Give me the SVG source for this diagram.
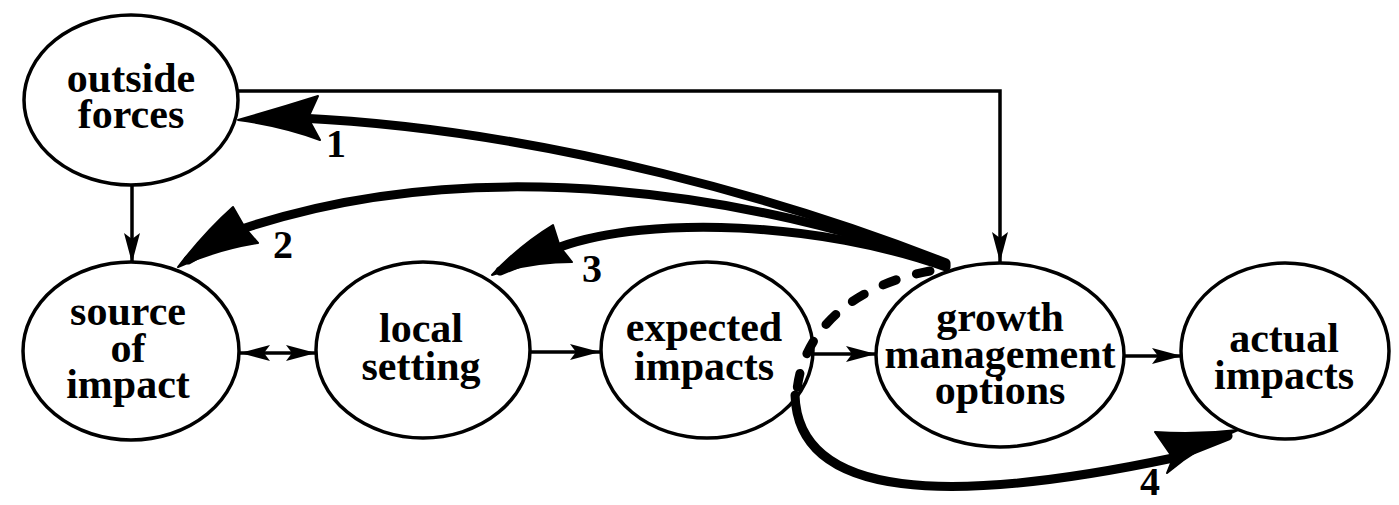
<svg xmlns="http://www.w3.org/2000/svg" width="1399" height="505" viewBox="0 0 1399 505">
<style>
.node ellipse{fill:#fff;stroke:#000;stroke-width:3.5}
.node text{font-family:"Liberation Serif","DejaVu Serif",serif;font-weight:bold;font-size:42px;text-anchor:middle;fill:#000}
.thin{fill:none;stroke:#000;stroke-width:3.5}
.thick{fill:none;stroke:#000;stroke-width:9;stroke-linecap:round}
.head{fill:#000;stroke:#000;stroke-width:2;stroke-linejoin:round}
.lbl{font-family:"Liberation Serif","DejaVu Serif",serif;font-weight:bold;font-size:40px;text-anchor:middle;fill:#000}
</style>
<defs>
<marker id="ah" viewBox="0 0 30 18" markerWidth="30" markerHeight="18" refX="30" refY="9" orient="auto-start-reverse" markerUnits="userSpaceOnUse">
<path d="M0,1 L30,9 L0,17 L6,9 Z" fill="#000"/>
</marker>
</defs>
<g id="outside-forces" class="node">
<ellipse cx="131" cy="100" rx="107" ry="85"/>
<text x="131" y="92">outside</text>
<text x="131" y="128">forces</text>
</g>
<g id="source-of-impact" class="node">
<ellipse cx="131" cy="351" rx="108" ry="89"/>
<text x="128" y="325">source</text>
<text x="128" y="362">of</text>
<text x="128" y="398">impact</text>
</g>
<g id="local-setting" class="node">
<ellipse cx="423" cy="350" rx="107" ry="88"/>
<text x="421" y="342">local</text>
<text x="421" y="380">setting</text>
</g>
<g id="expected-impacts" class="node">
<ellipse cx="707" cy="350" rx="106" ry="88"/>
<text x="704" y="341">expected</text>
<text x="704" y="380">impacts</text>
</g>
<g id="growth-management-options" class="node">
<ellipse cx="1000" cy="355" rx="124" ry="92"/>
<text x="1000" y="331">growth</text>
<text x="1000" y="368">management</text>
<text x="1000" y="404">options</text>
</g>
<g id="actual-impacts" class="node">
<ellipse cx="1285" cy="351" rx="104" ry="88"/>
<text x="1284" y="352">actual</text>
<text x="1284" y="389">impacts</text>
</g>
<g id="connectors">
<path class="thin" d="M238,91 H1000 V262" marker-end="url(#ah)"/>
<path class="thin" d="M132,185 V263" marker-end="url(#ah)"/>
<path class="thin" d="M240,353 H316" marker-start="url(#ah)" marker-end="url(#ah)"/>
<path class="thin" d="M531,352 H600" marker-end="url(#ah)"/>
<path class="thin" d="M813,354 H876" marker-end="url(#ah)"/>
<path class="thin" d="M1125,356 H1182" marker-end="url(#ah)"/>
<path class="thick" d="M946,263 C800,205 550,130 300,118 L258,119"/>
<path class="head" d="M238,120 Q280,108 318,96 L308,118 L320,140 Q282,126 238,120 Z"/>
<path class="thick" d="M946,265 C760,195 480,150 245,228 L188,260"/>
<path class="head" d="M178,267 Q205,232 233,207 L245,228 L258,243 Q215,250 178,267 Z"/>
<path class="thick" d="M946,267 C820,222 650,215 560,247 L500,271"/>
<path class="head" d="M492,275 Q520,245 553,225 L560,247 L572,262 Q530,262 492,275 Z"/>
<path class="thick" d="M930,271 C870,282 805,318 797,390" stroke-width="11" stroke-dasharray="14 21"/>
<path class="thick" d="M795,395 C798,500 950,505 1173,458 L1228,436" stroke-width="10"/>
<path class="head" d="M1238,430 Q1195,435 1155,432 L1173,458 L1167,473 Q1200,445 1238,430 Z"/>
<text class="lbl" x="336" y="157">1</text>
<text class="lbl" x="283" y="258">2</text>
<text class="lbl" x="592" y="282">3</text>
<text class="lbl" x="1150" y="495" font-size="38">4</text>
</g>
</svg>
